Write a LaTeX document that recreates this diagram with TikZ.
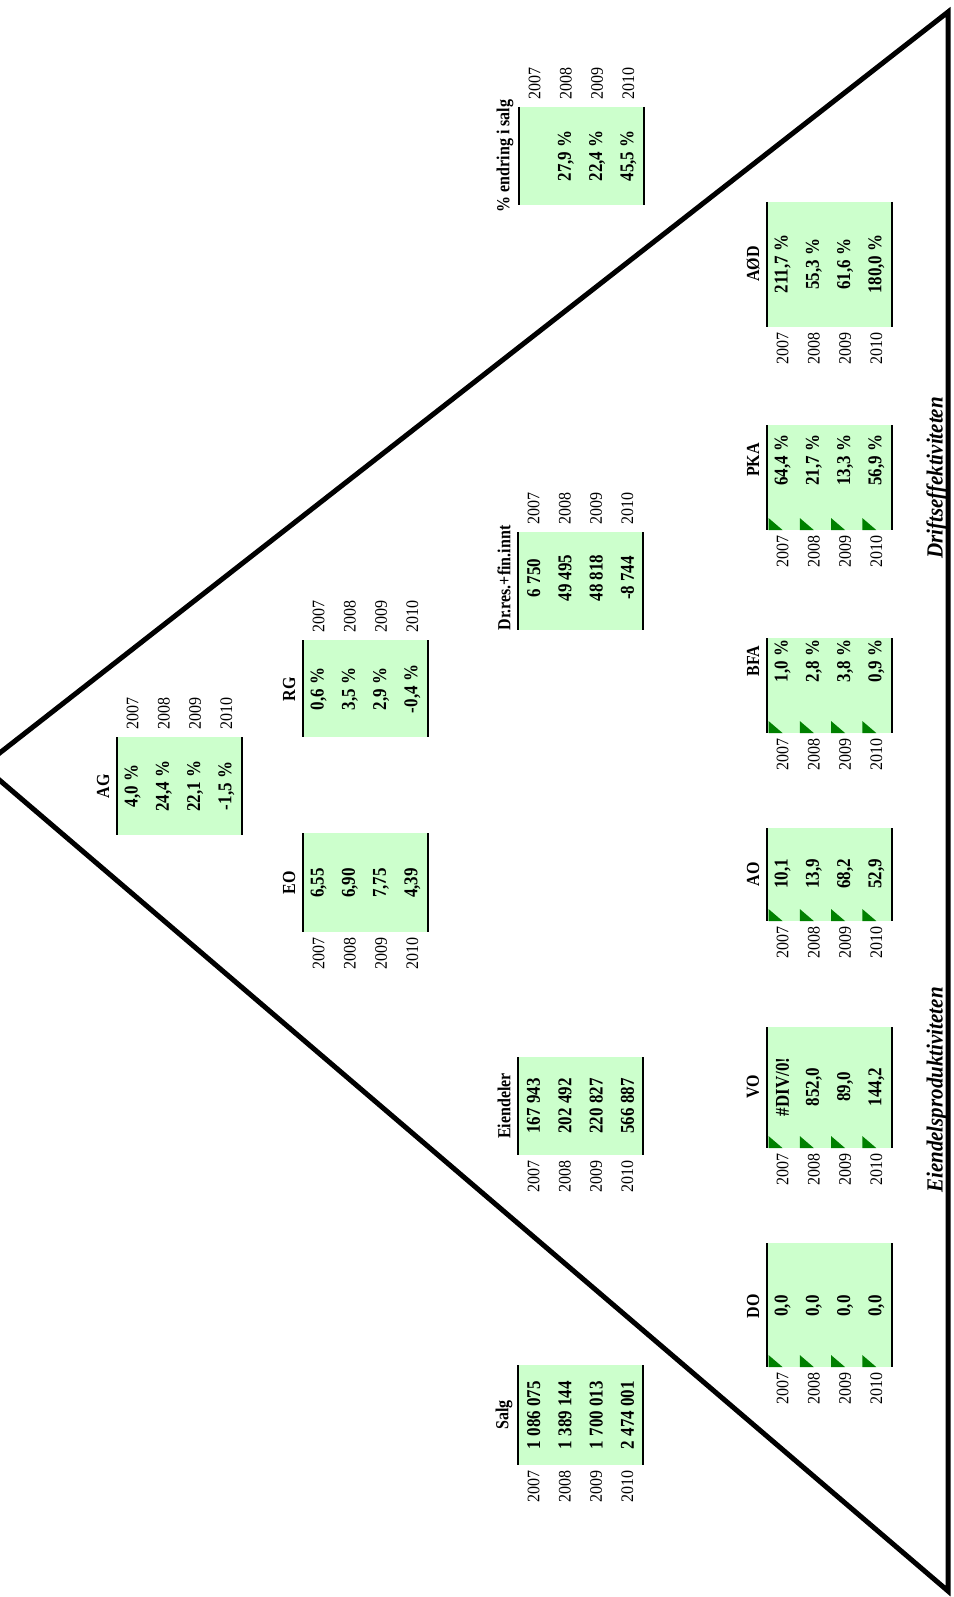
\documentclass[tikz,border=0pt]{standalone}
\usepackage{fontspec}
\setmainfont{Liberation Serif}
\definecolor{cellgreen}{HTML}{CCFFCC}
\definecolor{markgreen}{HTML}{008000}
\tikzset{
  gbox/.style={fill=cellgreen, draw=none, inner sep=0pt, outer sep=0pt},
  bline/.style={line width=2.8pt, black},
  ttl/.style={rotate=90, yscale=1.15, inner sep=0pt, font=\fontsize{16}{18}\selectfont\bfseries},
  val/.style={rotate=90, yscale=1.15, inner sep=0pt, font=\fontsize{17}{19}\selectfont\bfseries},
  yr/.style={rotate=90, yscale=1.1, inner sep=0pt, font=\fontsize{16}{18}\selectfont},
  lbl/.style={rotate=90, yscale=1.1, inner sep=0pt, font=\fontsize{21}{24}\selectfont\bfseries\itshape},
  tri/.style={line width=5pt, line join=miter, line cap=rect},
  cmark/.style={fill=markgreen, draw=none}
}
% box: name, L, yt, yb, text centre, title
\newcommand{\kbox}[6]{%
  \pgfmathsetmacro\kh{#4-#3}%
  \pgfmathsetmacro\kcy{(#3+#4)/2}%
  \def\kname{#1}\def\kL{#2}\def\ktc{#5}%
  \node[gbox, minimum width=125pt, minimum height=\kh pt] (#1) at (#2+62.5,\kcy) {};
  \draw[bline] (#1.north west) -- (#1.south west);
  \draw[bline] (#1.north east) -- (#1.south east);
  \node[ttl] (#1-t) at (#2-14,#5) {#6};
}
% values of the last box
\newcommand{\kvals}[4]{%
  \node[val] (\kname-a) at (\kL+15.6,\ktc) {#1};
  \node[val] (\kname-b) at (\kL+46.9,\ktc) {#2};
  \node[val] (\kname-c) at (\kL+78.1,\ktc) {#3};
  \node[val] (\kname-d) at (\kL+109.4,\ktc) {#4};
}
% years below (larger y): yb
\newcommand{\kyrB}[1]{%
  \node[yr, anchor=east] (\kname-y1) at (\kL+15.6,#1+5) {2007};
  \node[yr, anchor=east] (\kname-y2) at (\kL+46.9,#1+5) {2008};
  \node[yr, anchor=east] (\kname-y3) at (\kL+78.1,#1+5) {2009};
  \node[yr, anchor=east] (\kname-y4) at (\kL+109.4,#1+5) {2010};
}
% years above (smaller y): yt
\newcommand{\kyrT}[1]{%
  \node[yr, anchor=west] (\kname-y1) at (\kL+15.6,#1-7) {2007};
  \node[yr, anchor=west] (\kname-y2) at (\kL+46.9,#1-7) {2008};
  \node[yr, anchor=west] (\kname-y3) at (\kL+78.1,#1-7) {2009};
  \node[yr, anchor=west] (\kname-y4) at (\kL+109.4,#1-7) {2010};
}
% comment marks: yb
\newcommand{\kmarks}[1]{%
  \foreach \i in {0,1,2,3} {
    \fill[cmark] (\kL+1.5+31.25*\i,#1-12) -- (\kL+1.5+31.25*\i,#1) -- (\kL+15.5+31.25*\i,#1) -- cycle;
  }
}
\begin{document}
\begin{tikzpicture}[x=1pt,y=-1pt]
\useasboundingbox (0,0) rectangle (953,1597);
\fill[white] (0,0) rectangle (953,1597);
% triangle
\coordinate (apex) at (-17,766);
\coordinate (tr) at (948,12);
\coordinate (br) at (948,1591);
\draw[tri] (apex) -- (tr) -- (br) -- cycle;
% upper column
\kbox{pct}{519}{107}{205}{156}{\% endring  i salg}
\kvals{}{27,9 \%}{22,4 \%}{45,5 \%}
\kyrT{107}
\kbox{ag}{117}{737}{835}{786}{AG}
\kvals{4,0 \%}{24,4 \%}{22,1 \%}{-1,5 \%}
\kyrT{737}
\kbox{rg}{303}{640}{737}{689}{RG}
\kvals{0,6 \%}{3,5 \%}{2,9 \%}{-0,4 \%}
\kyrT{640}
\kbox{eo}{303}{833}{932}{883}{EO}
\kvals{6,55}{6,90}{7,75}{4,39}
\kyrB{932}
\kbox{dr}{518}{532}{630}{578}{Dr.res.+fin.innt}
\kvals{6 750}{49 495}{48 818}{-8 744}
\kyrT{532}
\kbox{eie}{518}{1057}{1155}{1106}{Eiendeler}
\kvals{167 943}{202 492}{220 827}{566 887}
\kyrB{1155}
\kbox{salg}{518}{1365}{1465}{1415}{Salg}
\kvals{1 086 075}{1 389 144}{1 700 013}{2 474 001}
\kyrB{1465}
% bottom row
\kbox{aod}{767}{202}{327}{264}{AØD}
\kvals{211,7 \%}{55,3 \%}{61,6 \%}{180,0 \%}
\kyrB{327}
\kbox{pka}{767}{425}{530}{460}{PKA}
\kvals{64,4 \%}{21,7 \%}{13,3 \%}{56,9 \%}
\kyrB{530}
\kmarks{530}
\kbox{bfa}{767}{638}{733}{661}{BFA}
\kvals{1,0 \%}{2,8 \%}{3,8 \%}{0,9 \%}
\kyrB{733}
\kmarks{733}
\kbox{ao}{767}{828}{921}{874}{AO}
\kvals{10,1}{13,9}{68,2}{52,9}
\kyrB{921}
\kmarks{921}
\kbox{vo}{767}{1027}{1148}{1087}{VO}
\kvals{\#DIV/0!}{852,0}{89,0}{144,2}
\kyrB{1148}
\kmarks{1148}
\kbox{do}{767}{1243}{1367}{1306}{DO}
\kvals{0,0}{0,0}{0,0}{0,0}
\kyrB{1367}
\kmarks{1367}
% side labels
\node[lbl] (lbl-d) at (937,478) {Driftseffektiviteten};
\node[lbl] (lbl-e) at (937,1090) {Eiendelsproduktiviteten};
\end{tikzpicture}
\end{document}
